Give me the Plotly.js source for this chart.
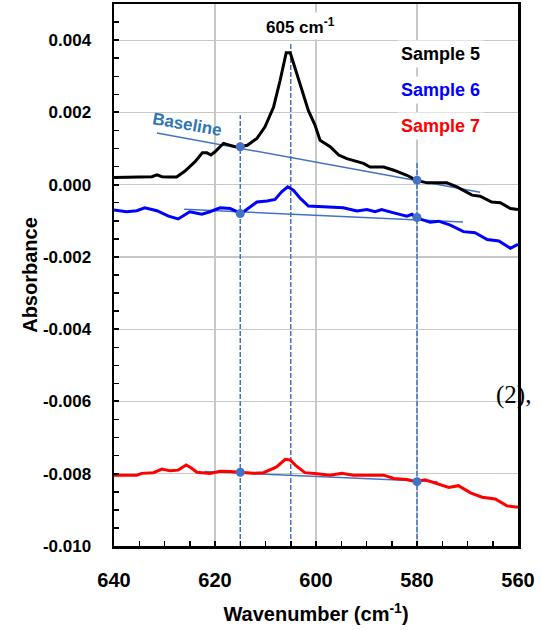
<!DOCTYPE html>
<html>
<head>
<meta charset="utf-8">
<script src="https://cdn.plot.ly/plotly-3.0.1.min.js"></script>
<style>html,body{margin:0;padding:0;background:#fff;}#chart{width:541px;height:630px;}</style>
</head>
<body>
<div id="chart"></div>
<script>
// ---- Data ----
const s5Wn  = [640,637,634,632.5,631.5,630.5,629,627.6,626,624,622.5,621.6,620.8,620,619,618.3,617.3,616,615,613.6,612.5,611.7,610.1,608.4,607.1,605.9,605.1,603.8,602.5,601.5,600.2,599.2,597.2,595.5,593.9,590.6,589.3,586.6,584.6,582,580.2,578,574.1,572.1,569.1,567.5,565.2,563.5,561.5,560];
const s5Abs = [0.0002,0.0002,0.0002,0.00022,0.00027,0.00022,0.00021,0.00021,0.00037,0.00063,0.00088,0.00088,0.00082,0.00091,0.00105,0.00114,0.0011,0.00105,0.00105,0.00109,0.0012,0.00128,0.0016,0.00215,0.00289,0.00365,0.00365,0.00308,0.0025,0.00205,0.00165,0.00123,0.00105,0.00082,0.00072,0.00059,0.00049,0.00049,0.0004,0.00026,0.000125,0.00005,0.00005,-0.00006,-0.00029,-0.00032,-0.00048,-0.0005,-0.00066,-0.00069];

const s6Wn  = [640,637.5,635.5,633.9,631.5,629.2,627.3,625,622.6,621,619,617,614.8,613,611.7,609.7,608.1,606.8,605.6,604.5,603.1,601.5,599.2,598.5,594.6,591.9,589.9,588.3,587,584.6,582,581,580.2,578.7,577.4,575.7,573.4,570.8,568.5,566.1,563.8,561.5,560];
const s6Abs = [-0.0007,-0.00075,-0.00072,-0.00064,-0.00072,-0.00087,-0.00095,-0.00075,-0.00082,-0.00075,-0.00064,-0.00066,-0.0008,-0.00061,-0.00048,-0.00045,-0.00041,-0.0002,-0.00006,-0.00015,-0.00038,-0.00059,-0.0006,-0.00061,-0.00064,-0.00073,-0.00069,-0.00075,-0.00069,-0.00078,-0.00087,-0.00082,-0.00091,-0.00098,-0.00104,-0.00101,-0.00112,-0.0013,-0.00133,-0.00152,-0.00156,-0.00176,-0.00165];

const s7Wn  = [640,635.5,634.5,632.2,630.5,628.9,627.3,625.7,624.6,623.6,621,619,617,614.8,612.4,610.4,609.1,607.8,606.1,605.1,604.1,602.2,599.8,597.2,594.9,592.6,586.6,584.6,582,580.2,578.4,576,573.7,571.8,569.4,567.1,564.5,562.2,560];
const s7Abs = [-0.00804,-0.00804,-0.00799,-0.00797,-0.00787,-0.00792,-0.0079,-0.00776,-0.00785,-0.00796,-0.00799,-0.00793,-0.00794,-0.00796,-0.00799,-0.00797,-0.0079,-0.00781,-0.0076,-0.00762,-0.00776,-0.00797,-0.008,-0.00804,-0.00799,-0.00804,-0.00804,-0.00813,-0.00816,-0.00822,-0.00817,-0.00828,-0.00838,-0.00833,-0.00853,-0.00865,-0.0087,-0.00889,-0.00893];

// baseline segments (start/end wavenumber and absorbance)
const base5Wn = [631.5, 567.5], base5Abs = [0.00143, -0.00021];
const base6Wn = [626.1, 570.9], base6Abs = [-0.00068, -0.00103];
const base7Wn = [622.1, 575.9], base7Abs = [-0.00794, -0.00822];

// baseline anchor points
const anchorWn  = [615, 580, 615, 580, 615, 580];
const anchorAbs = [0.00105, 0.000125, -0.0008, -0.00091, -0.00796, -0.00822];

// vertical dashed marker lines: position and top value
const markWn  = [615, 605, 580];
const markTop = [0.00192, 0.00391, 0.00061];
const axisMin = -0.010, axisMax = 0.005;

// tick labels
const yTickVals   = [-0.010, -0.008, -0.006, -0.004, -0.002, 0.000, 0.002, 0.004];
const yTickLabels = ['-0.010', '-0.008', '-0.006', '-0.004', '-0.002', '0.000', '0.002', '0.004'];
const xTickVals   = [640, 620, 600, 580, 560];
const xTickLabels = ['640', '620', '600', '580', '560'];

const sampleNames  = ['Sample 5', 'Sample 6', 'Sample 7'];
const sampleColors = ['#000000', '#0000ff', '#ff0000'];

// ---- Traces ----
const FONT = 'Arial, "Liberation Sans", sans-serif';
const BLUE = '#4472c4';
const traces = [];
markWn.forEach((w, i) => {
  traces.push({x: [w, w], y: [axisMin, markTop[i]], mode: 'lines', line: {color: BLUE, width: 1.5, dash: '5px,2px'}, hoverinfo: 'skip'});
});
[[base5Wn, base5Abs], [base6Wn, base6Abs], [base7Wn, base7Abs]].forEach(b => {
  traces.push({x: b[0], y: b[1], mode: 'lines', line: {color: BLUE, width: 1.5}, hoverinfo: 'skip'});
});
[[s5Wn, s5Abs], [s6Wn, s6Abs], [s7Wn, s7Abs]].forEach((s, i) => {
  traces.push({x: s[0], y: s[1], mode: 'lines', name: sampleNames[i], line: {color: sampleColors[i], width: 3, shape: 'linear'}});
});
traces.push({x: anchorWn, y: anchorAbs, mode: 'markers', marker: {color: BLUE, size: 9}, hoverinfo: 'skip'});

const legendY = [0.908, 0.8415, 0.775];
const annotations = sampleNames.map((n, i) => ({
  text: n, xref: 'paper', yref: 'paper', x: 0.917, y: legendY[i], xanchor: 'right', yanchor: 'middle',
  showarrow: false, bgcolor: '#ffffff', borderpad: 3,
  font: {family: FONT, size: 18, color: sampleColors[i], weight: 'bold'}
}));
annotations.push({
  text: '605 cm<sup>-1</sup>', xref: 'paper', yref: 'paper', x: 0.461, y: 0.959, xanchor: 'center', yanchor: 'middle',
  showarrow: false, bgcolor: '#ffffff', borderpad: 2,
  font: {family: FONT, size: 17, color: '#000', weight: 'bold'}
});
annotations.push({
  text: 'Baseline', xref: 'paper', yref: 'paper', x: 0.18, y: 0.777, xanchor: 'center', yanchor: 'middle',
  showarrow: false, textangle: 10,
  font: {family: FONT, size: 17, color: '#2e75b6', weight: 'bold'}
});
annotations.push({
  text: '(2),', xref: 'paper', yref: 'paper', x: 0.94, y: 0.278, xanchor: 'left', yanchor: 'middle',
  showarrow: false,
  font: {family: '"Liberation Serif", "Times New Roman", serif', size: 25, color: '#000'}
});

const layout = {
  width: 541, height: 630,
  margin: {l: 114, r: 23, t: 4, b: 84},
  paper_bgcolor: '#fff', plot_bgcolor: '#fff',
  showlegend: false,
  xaxis: {
    range: [640, 560], tickmode: 'array', tickvals: xTickVals, ticktext: xTickLabels,
    ticks: 'inside', ticklen: 5, tickwidth: 2, tickcolor: '#000',
    minor: {tickmode: 'linear', tick0: 560, dtick: 5, ticks: 'inside', ticklen: 5, tickwidth: 1.5, tickcolor: '#000', showgrid: false},
    showgrid: true, gridcolor: '#c8c8c8', gridwidth: 1.2, zeroline: false,
    showline: true, linecolor: '#000', linewidth: 2.5, mirror: true,
    ticklabelstandoff: 14,
    tickfont: {family: FONT, size: 20, color: '#000', weight: 'bold'},
    title: {text: 'Wavenumber (cm<sup>-1</sup>)', standoff: 18, font: {family: FONT, size: 20, color: '#000', weight: 'bold'}}
  },
  yaxis: {
    range: [axisMin, axisMax], tickmode: 'array', tickvals: yTickVals, ticktext: yTickLabels,
    ticks: 'inside', ticklen: 5, tickwidth: 2, tickcolor: '#000',
    minor: {tickmode: 'linear', tick0: -0.010, dtick: 0.0005, ticks: 'inside', ticklen: 5, tickwidth: 1.5, tickcolor: '#000', showgrid: false},
    showgrid: true, gridcolor: '#c8c8c8', gridwidth: 1.2, zeroline: false,
    showline: true, linecolor: '#000', linewidth: 2.5, mirror: true,
    ticklabelstandoff: 17,
    tickfont: {family: FONT, size: 17, color: '#000', weight: 'bold'},
    title: {text: 'Absorbance', standoff: 0, font: {family: FONT, size: 20, color: '#000', weight: 'bold'}}
  },
  annotations: annotations
};

Plotly.newPlot('chart', traces, layout, {staticPlot: true, displayModeBar: false});
</script>
</body>
</html>
